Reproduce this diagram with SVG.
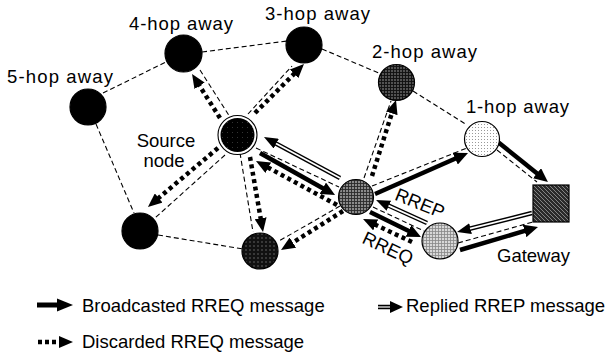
<svg xmlns="http://www.w3.org/2000/svg" width="614" height="355" viewBox="0 0 614 355">
<style>
text{font-family:"Liberation Sans",Arial,sans-serif;font-size:18.5px;fill:#000}
.dash{stroke:#000;stroke-width:1.1;stroke-dasharray:5 3;fill:none}
.solid{stroke:#000;stroke-width:4.5;fill:none;marker-end:url(#hs)}
.dot{stroke:#000;stroke-width:4.5;stroke-dasharray:4 3.5;fill:none;marker-end:url(#hd)}
.rep{stroke:#000;stroke-width:4.5;fill:none;marker-end:url(#hr)}
.repin{stroke:#fff;stroke-width:1.8;fill:none}
.node{stroke:#000;stroke-width:1.2}
</style>
<defs>
<marker id="hs" markerUnits="userSpaceOnUse" markerWidth="14" markerHeight="13" viewBox="0 0 14 13" refX="1" refY="6.5" orient="auto"><path d="M0,0 L14,6.5 L0,13 z" fill="#000"/></marker>
<marker id="hd" markerUnits="userSpaceOnUse" markerWidth="14" markerHeight="12" viewBox="0 0 14 12" refX="1" refY="6" orient="auto"><path d="M0,0 L14,6 L0,12 z" fill="#000"/></marker>
<marker id="hr" markerUnits="userSpaceOnUse" markerWidth="14" markerHeight="11" viewBox="0 0 14 11" refX="1" refY="5.5" orient="auto"><path d="M0,0 L14,5.5 L0,11 z" fill="#000"/></marker>
<pattern id="pMid" width="3" height="3" patternUnits="userSpaceOnUse"><rect width="3" height="3" fill="#8a8a8a"/><path d="M0,0.5H3M0.5,0V3" stroke="#2a2a2a" stroke-width="0.9"/></pattern>
<pattern id="pLight" width="3" height="3" patternUnits="userSpaceOnUse"><rect width="3" height="3" fill="#d8d8d8"/><path d="M0,0.5H3M0.5,0V3" stroke="#888" stroke-width="0.8"/></pattern>
<pattern id="pDots" width="3" height="3" patternUnits="userSpaceOnUse"><rect width="3" height="3" fill="#fff"/><rect x="1" y="1" width="1" height="1" fill="#999"/></pattern>
<pattern id="pDark" width="3" height="3" patternUnits="userSpaceOnUse"><rect width="3" height="3" fill="#3a3a3a"/><path d="M0,0.5H3M0.5,0V3" stroke="#111" stroke-width="0.9"/><rect x="1.5" y="1.5" width="1" height="1" fill="#9a9a9a"/></pattern>
<pattern id="pBlackDots" width="4" height="4" patternUnits="userSpaceOnUse"><rect width="4" height="4" fill="#111"/><rect x="1.5" y="1.5" width="1" height="1" fill="#aaa"/></pattern>
<pattern id="pGw" width="4" height="4" patternUnits="userSpaceOnUse"><rect width="4" height="4" fill="#2a2a2a"/><path d="M0,0L4,4" stroke="#9a9a9a" stroke-width="0.8"/></pattern>
<pattern id="pSrc" width="5" height="5" patternUnits="userSpaceOnUse"><rect width="5" height="5" fill="#000"/><rect x="2" y="2" width="1" height="1" fill="#333"/></pattern>
</defs>
<rect width="614" height="355" fill="#fff"/>

<g id="connectors">
<line class="dash" x1="103" y1="93" x2="166" y2="62"/>
<line class="dash" x1="202" y1="52" x2="287" y2="41"/>
<line class="dash" x1="322" y1="49" x2="381" y2="74"/>
<line class="dash" x1="413" y1="91" x2="467" y2="125"/>
<line class="dash" x1="96" y1="124" x2="134" y2="213"/>
<line class="dash" x1="158" y1="235" x2="243" y2="249"/>

<line class="dash" x1="200" y1="70" x2="230" y2="117"/>
<line class="dash" x1="248" y1="114" x2="292" y2="66"/>
<line class="dash" x1="225" y1="155" x2="155" y2="218"/>
<line class="dash" x1="240" y1="153" x2="253" y2="232"/>
<line class="dash" x1="256" y1="148" x2="339" y2="187"/>
<line class="dash" x1="364" y1="178" x2="391" y2="101"/>
<line class="dash" x1="372" y1="186" x2="467" y2="148"/>
<line class="dash" x1="340" y1="206" x2="279" y2="241"/>
<line class="dash" x1="373" y1="207" x2="424" y2="231"/>
<line class="dash" x1="458" y1="243" x2="533" y2="222"/>
<line class="dash" x1="497" y1="150" x2="537" y2="182"/>

<line class="dot" x1="220" y1="118" x2="199" y2="85"/>
<line class="dot" x1="255" y1="113" x2="294.8" y2="73.2"/>
<line class="dot" x1="218" y1="148" x2="157.9" y2="198.6"/>
<line class="dot" x1="250" y1="157" x2="260.8" y2="219.2"/>
<line class="dot" x1="337" y1="205" x2="267.4" y2="167.2"/>
<line class="dot" x1="372" y1="176" x2="392.1" y2="112.4"/>
<line class="dot" x1="343" y1="211" x2="292" y2="243.1"/>
<line class="dot" x1="412" y1="242" x2="374.8" y2="224.5"/>

<line class="solid" x1="260" y1="153" x2="323.7" y2="188.7"/>
<line class="solid" x1="375" y1="194" x2="456.1" y2="158.2"/>
<line class="solid" x1="370" y1="212" x2="409.3" y2="231.3"/>
<line class="solid" x1="460" y1="250" x2="525.5" y2="230.7"/>
<line class="solid" x1="498" y1="142" x2="537.8" y2="173.9"/>

<line class="rep" x1="340" y1="178" x2="275.4" y2="143.2"/>
<line class="repin" x1="340" y1="178" x2="276" y2="143.5"/>
<line class="rep" x1="427" y1="223" x2="387.9" y2="205.3"/>
<line class="repin" x1="427" y1="223" x2="388.5" y2="205.6"/>
<line class="rep" x1="532" y1="213" x2="469.6" y2="228.8"/>
<line class="repin" x1="532" y1="213" x2="470" y2="228.7"/>
</g>

<g id="node-5hop"><circle class="node" cx="88" cy="107" r="18" fill="#000"/><text x="7" y="83" textLength="106">5-hop away</text></g>
<g id="node-4hop"><circle class="node" cx="183.5" cy="53.5" r="18.5" fill="#000"/><text x="129" y="30" textLength="104">4-hop away</text></g>
<g id="node-3hop"><circle class="node" cx="304" cy="45" r="18" fill="#000"/><text x="265" y="20" textLength="105">3-hop away</text></g>
<g id="node-2hop"><circle class="node" cx="396.5" cy="82.5" r="18" fill="url(#pDark)"/><text x="372" y="58" textLength="105">2-hop away</text></g>
<g id="node-1hop"><circle class="node" cx="482" cy="139" r="17.5" fill="url(#pDots)"/><text x="466" y="113" textLength="103">1-hop away</text></g>
<g id="node-source"><circle cx="237.5" cy="135" r="19.5" fill="#fff" stroke="#000" stroke-width="1.1"/><circle cx="237.5" cy="135" r="17" fill="url(#pSrc)"/><text x="166" y="147" text-anchor="middle">Source</text><text x="164" y="167" text-anchor="middle">node</text></g>
<g id="node-relay"><circle class="node" cx="356" cy="197" r="17.5" fill="url(#pMid)"/></g>
<g id="node-neighbor"><circle class="node" cx="440" cy="241" r="18" fill="url(#pLight)"/></g>
<g id="node-bl"><circle class="node" cx="140" cy="231" r="18" fill="#000"/></g>
<g id="node-bm"><circle class="node" cx="260" cy="251" r="18" fill="url(#pBlackDots)"/></g>
<g id="node-gateway"><rect class="node" x="533" y="185" width="36" height="37" fill="url(#pGw)"/><text x="497" y="262">Gateway</text></g>

<g id="labels">
<text transform="translate(420,203) rotate(22)" x="0" y="6.5" text-anchor="middle">RREP</text>
<text transform="translate(388,248) rotate(25)" x="0" y="6.5" text-anchor="middle">RREQ</text>
</g>

<g id="legend">
<line x1="37" y1="305" x2="60" y2="305" stroke="#000" stroke-width="5"/>
<path d="M57,298.5 L73,305 L57,311.5 z" fill="#000"/>
<text x="82" y="312">Broadcasted RREQ message</text>
<line x1="378" y1="307" x2="392" y2="307" stroke="#000" stroke-width="4.5"/>
<line x1="378" y1="307" x2="392" y2="307" stroke="#999" stroke-width="2"/>
<path d="M390,301 L403,307 L390,313 z" fill="#000"/>
<text x="406" y="312">Replied RREP message</text>
<line x1="38" y1="342" x2="60" y2="342" stroke="#000" stroke-width="4.5" stroke-dasharray="4 3"/>
<path d="M59,336 L73,342 L59,348 z" fill="#000"/>
<text x="82" y="348">Discarded RREQ message</text>
</g>
</svg>
